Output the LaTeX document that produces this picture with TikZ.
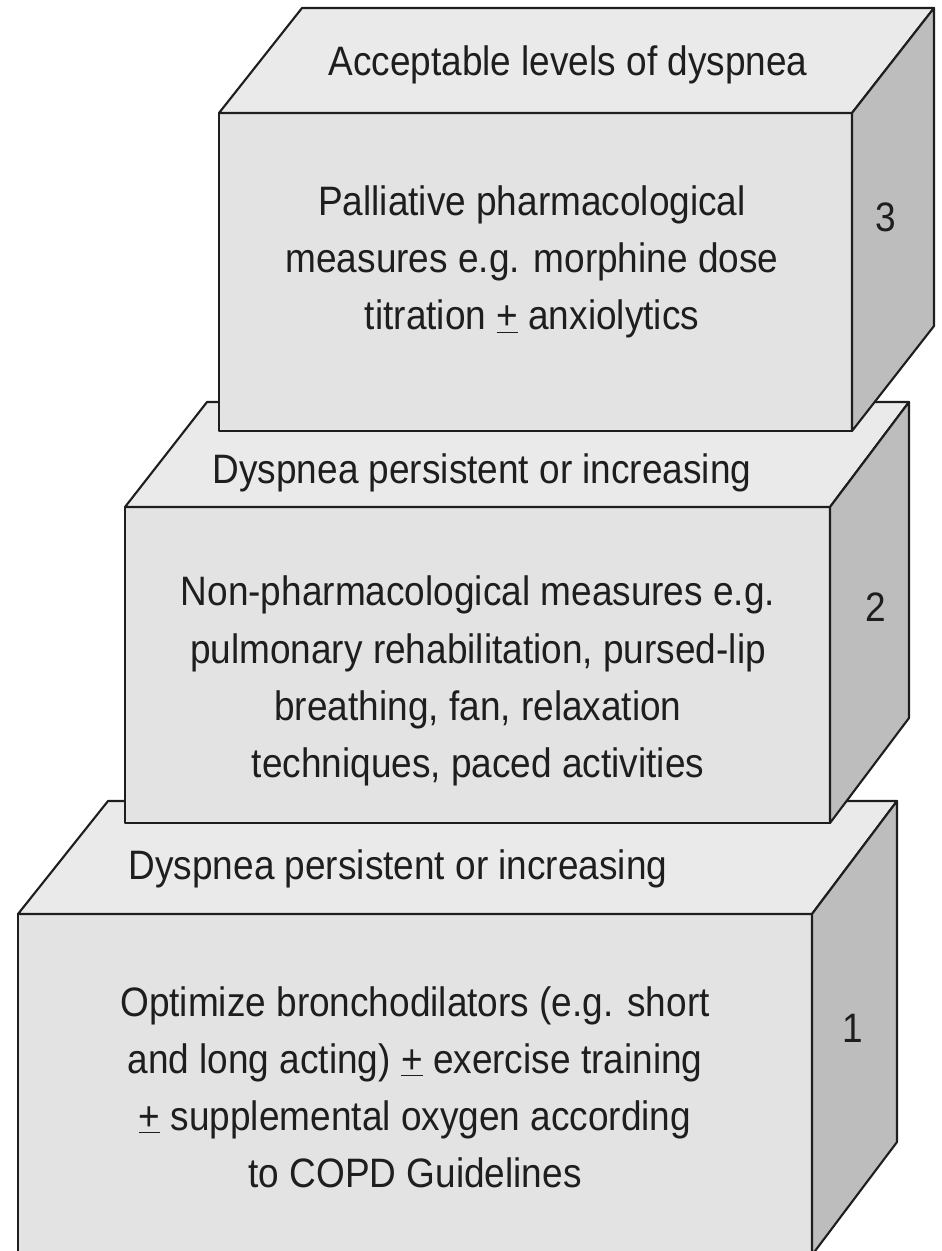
\documentclass[tikz,border=0pt]{standalone}
\usepackage{fontspec}
\setmainfont{Liberation Sans}[FakeStretch=0.9]
\usepackage{xcolor}
\usepackage{tikz}
\definecolor{frontgray}{HTML}{E3E3E3}
\definecolor{topgray}{HTML}{EAEAEA}
\definecolor{sidegray}{HTML}{BDBDBD}
\definecolor{inkgray}{HTML}{1E1E1E}
\newcommand{\plusmin}{\underline{+}}

\begin{document}
\begin{tikzpicture}[
  x=0.02cm, y=-0.02cm,
  font=\fontsize{23.4}{32.5}\selectfont,
  edge/.style={draw=inkgray, line width=1.2pt, line join=round},
  frontface/.style={edge, fill=frontgray},
  topface/.style={edge, fill=topgray},
  sideface/.style={edge, fill=sidegray},
  txt/.style={text=inkgray, align=center, inner sep=0pt},
  num/.style={text=inkgray, inner sep=0pt}
]
\useasboundingbox (0,0) rectangle (942,1251);
\clip (0,0) rectangle (942,1251);

% step 1
\path[frontface] (18,914) rectangle (812,1290);
\path[topface] (18,914) -- (108,801) -- (897,801) -- (812,914) -- cycle;
\path[sideface] (812,914) -- (897,801) -- (897,1142) -- (812,1255) -- cycle;

% step 2
\path[frontface] (125,507) rectangle (830,823);
\path[topface] (125,507) -- (207,402) -- (909,402) -- (830,507) -- cycle;
\path[sideface] (830,507) -- (909,402) -- (909,718) -- (830,823) -- cycle;

% step 3
\path[frontface] (219,113) rectangle (852,431);
\path[topface] (219,113) -- (302,8) -- (934,8) -- (852,113) -- cycle;
\path[sideface] (852,113) -- (934,8) -- (934,326) -- (852,431) -- cycle;

% texts
\node[txt] (top1) at (398,869) {Dyspnea persistent or increasing};
\node[txt] (body1) at (415,1087) {Optimize bronchodilators (e.g. short\\and long acting) \plusmin{} exercise training\\\plusmin{} supplemental oxygen according\\to COPD Guidelines};
\node[num] (num1) at (853,1028) {1};

\node[txt] (top2) at (482,473) {Dyspnea persistent or increasing};
\node[txt] (body2) at (478,681) {Non-pharmacological measures e.g.\\pulmonary rehabilitation, pursed-lip\\breathing, fan, relaxation\\techniques, paced activities};
\node[num] (num2) at (876,607) {2};

\node[txt] (top3) at (568,65) {Acceptable levels of dyspnea};
\node[txt] (body3) at (532,262) {Palliative pharmacological\\measures e.g. morphine dose\\titration \plusmin{} anxiolytics};
\node[num] (num3) at (886,217) {3};
\end{tikzpicture}
\end{document}
